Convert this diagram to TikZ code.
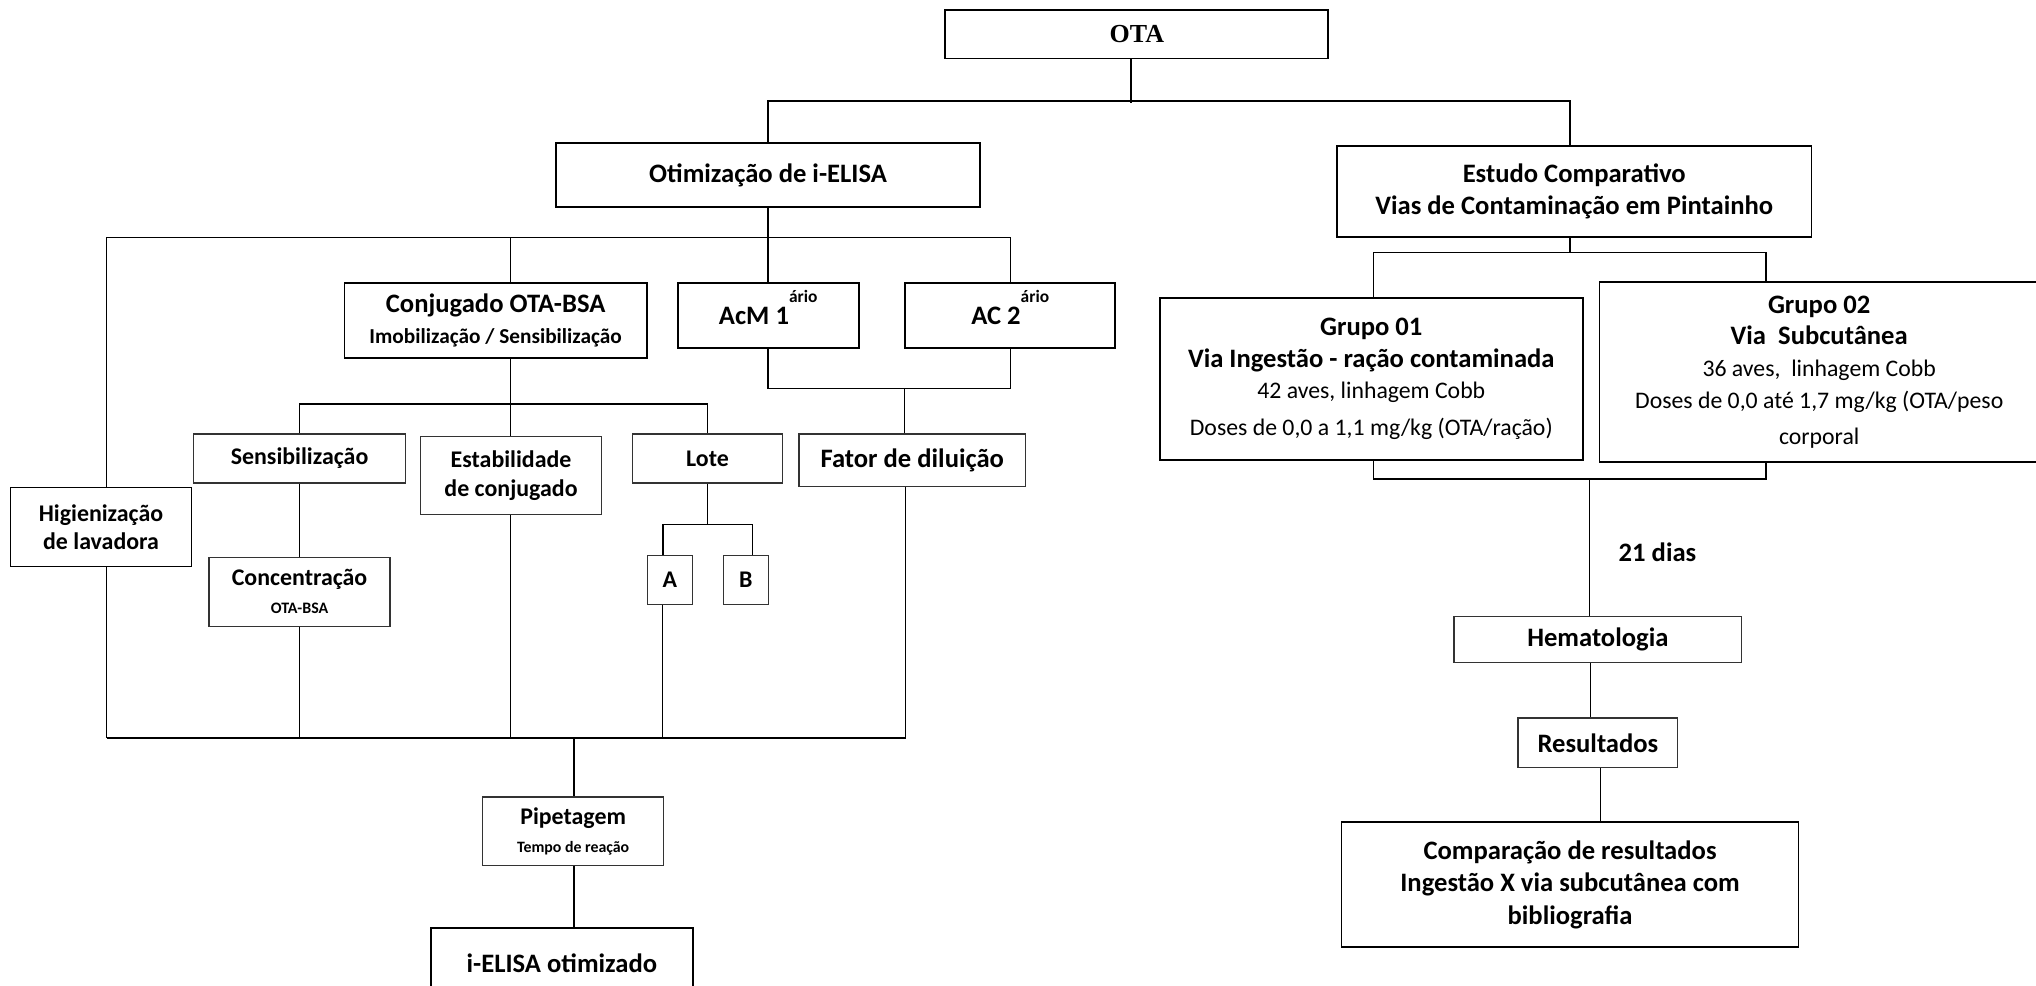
\documentclass[tikz,border=0pt]{standalone}
\usepackage{fontspec}
\setmainfont{Carlito}
\newfontfamily\otafont{Liberation Serif}
\newcommand\rgfont{\mdseries\fontsize{18.3}{24}\selectfont}
\begin{document}
\begin{tikzpicture}[x=1pt,y=-1pt,
  bx/.style={draw, inner sep=0pt, align=center},
  thickbox/.style={bx, line width=1.4pt},
  thinbox/.style={bx, line width=0.9pt, draw=black!80},
  fbig/.style={font=\fontsize{20.5}{24.4}\selectfont\bfseries},
  fmed/.style={font=\fontsize{18.4}{21.5}\selectfont\bfseries},
  conn/.style={line width=1.1pt},
  busline/.style={line width=1.6pt}
]
\useasboundingbox (0,0) rectangle (1568,759);

% ---------- boxes ----------
\node[thickbox, minimum width=295pt, minimum height=37pt, font=\otafont\fontsize{20}{22}\selectfont\bfseries] (ota) at (875.5,26.5) {OTA};
\node[thickbox, minimum width=326.3pt, minimum height=49.7pt, fbig] (otim) at (591.5,134.85) {Otimização de i-ELISA};
\node[thickbox, minimum width=365.5pt, minimum height=70.4pt, fbig] (estudo) at (1212.35,147.6) {Estudo Comparativo\\Vias de Contaminação em Pintainho};

\node[thickbox, minimum width=232.8pt, minimum height=58.3pt, fbig] (conj) at (381.7,246.85)
  {Conjugado OTA-BSA\\\fontsize{16.4}{21.8}\selectfont Imobilização / Sensibilização};
\node[thickbox, minimum width=139.4pt, minimum height=50.6pt, fbig] (acm) at (591.6,243)
  {AcM 1\smash{\raisebox{16.7pt}{\fontsize{13.4}{14}\selectfont ário}}};
\node[thickbox, minimum width=162pt, minimum height=50.6pt, fbig] (ac2) at (778,243)
  {AC 2\smash{\raisebox{16.7pt}{\fontsize{13.4}{14}\selectfont ário}}};

\node[thinbox, minimum width=163.2pt, minimum height=37.8pt, fmed] (sens) at (230.7,353.1) {Sensibilização};
\node[thinbox, minimum width=139.9pt, minimum height=60.2pt, font=\fontsize{18.4}{22.6}\selectfont\bfseries] (estab) at (393.55,366.4) {Estabilidade\\de conjugado};
\node[thinbox, minimum width=116.1pt, minimum height=37.8pt, fmed] (lote) at (544.85,353.1) {Lote};
\node[thinbox, minimum width=174.5pt, minimum height=40.6pt, fbig] (fator) at (702.55,354.5) {Fator de diluição};
\node[thickbox, line width=1.1pt, minimum width=139.4pt, minimum height=60.8pt, fmed] (higien) at (77.8,405.8) {Higienização\\de lavadora};
\node[thinbox, minimum width=139.4pt, minimum height=52.8pt, fmed] (conc) at (230.7,455.8)
  {Concentração\\\fontsize{12.3}{19}\selectfont OTA-BSA};
\node[thinbox, minimum width=34.6pt, minimum height=37.9pt, fmed] (boxa) at (515.9,446.45) {A};
\node[thinbox, minimum width=34.6pt, minimum height=37.9pt, fmed] (boxb) at (574.3,446.45) {B};
\node[thinbox, minimum width=139.4pt, minimum height=52.6pt, fmed] (pip) at (441.4,640.1)
  {Pipetagem\\\fontsize{12.2}{18.4}\selectfont Tempo de reação};
\node[thickbox, minimum width=202.1pt, minimum height=55.6pt, fbig] (ielisa) at (432.75,742.2) {i-ELISA otimizado};

\node[thickbox, minimum width=325.9pt, minimum height=125.1pt, fbig] (g1) at (1056.05,291.75)
  {Grupo 01\\Via Ingestão - ração contaminada\\
   \rgfont 42 aves, linhagem Cobb\\[4pt]
   \rgfont Doses de 0,0 a 1,1 mg/kg (OTA/ração)};
\node[thickbox, line width=1.1pt, minimum width=338pt, minimum height=138.7pt, fbig] (g2) at (1401,286.5)
  {Grupo 02\\Via\ \ Subcutânea\\
   \rgfont 36 aves,\ \ linhagem Cobb\\
   \rgfont Doses de 0,0 até 1,7 mg/kg (OTA/peso\\[3.5pt]
   \rgfont corporal};
\node[fbig] (dias) at (1276.5,425.4) {21 dias};
\node[thinbox, minimum width=221.7pt, minimum height=35.5pt, fbig] (hemat) at (1230.55,492.55) {Hematologia};
\node[thinbox, minimum width=123.2pt, minimum height=38.3pt, fbig] (result) at (1230.6,572.05) {Resultados};
\node[thickbox, line width=1.1pt, minimum width=351.7pt, minimum height=96.4pt, font=\fontsize{20.5}{25}\selectfont\bfseries] (compar) at (1209.15,681.2)
  {Comparação de resultados\\Ingestão X via subcutânea com\\bibliografia};

% ---------- junction coordinates ----------
\coordinate (t1) at (871,79.6);
\coordinate (e1) at (1209,77.8);
\coordinate (h1) at (82.1,182.8);
\coordinate (h2) at (393.3,182.8);
\coordinate (h3) at (778,182.8);
\coordinate (f1) at (696.4,299);
\coordinate (c1) at (393.3,311.1);
\coordinate (l1) at (510.5,403.9);
\coordinate (l2) at (579.7,403.9);
\coordinate (bL) at (82.1,568.6);
\coordinate (bS) at (230.7,568.6);
\coordinate (bE) at (393.3,568.6);
\coordinate (bA) at (510,568.6);
\coordinate (bC) at (441.9,568.6);
\coordinate (bR) at (697.4,568.6);
\coordinate (s1) at (1209,194.6);
\coordinate (s2) at (1360.2,194.6);
\coordinate (r1) at (1057.7,368.9);
\coordinate (r2) at (1360.2,368.9);
\coordinate (r3) at (1224.1,368.9);
\coordinate (m1) at (1225,530);
\coordinate (m2) at (1232.4,610);

% ---------- connectors ----------
\draw[conn] (t1 |- ota.south) -- (t1);
\draw[conn] (otim.north) |- (e1) -- (e1 |- estudo.north);

\draw[conn] (otim.south) -- (otim.south |- h1);
\draw[conn] (h1 |- higien.north) -- (h1) -- (h3) -- (ac2.north);
\draw[conn] (h2) -- (h2 |- conj.north);
\draw[conn] (acm.north) -- (acm.north |- h1);

\draw[conn] (acm.south) |- (ac2.south |- f1) -- (ac2.south);
\draw[conn] (f1) -- (f1 |- fator.north);

\draw[conn] (c1 |- conj.south) -- (c1);
\draw[conn] (sens.north) |- (lote.north |- c1) -- (lote.north);
\draw[conn] (c1) -- (c1 |- estab.north);

\draw[conn] (sens.south) -- (conc.north);
\draw[conn] (lote.south) -- (lote.south |- l1);
\draw[conn] (l1 |- boxa.north) -- (l1) -- (l2) -- (l2 |- boxb.north);

\draw[conn] (bL |- higien.south) -- (bL);
\draw[conn] (conc.south) -- (bS);
\draw[conn] (bE |- estab.south) -- (bE);
\draw[conn] (bA |- boxa.south) -- (bA);
\draw[conn] (bR |- fator.south) -- (bR);
\draw[busline] (bL) -- (bR);
\draw[conn] (bC) -- (bC |- pip.north);
\draw[conn] (bC |- pip.south) -- (bC |- ielisa.north);

\draw[conn] (s1 |- estudo.south) -- (s1);
\draw[conn] (g1.north -| r1) |- (s2) -- (s2 |- g2.north);

\draw[conn] (r1 |- g1.south) -- (r1) -- (r2) -- (r2 |- g2.south);
\draw[conn] (r3) -- (r3 |- hemat.north);
\draw[conn] (m1 |- hemat.south) -- (m1 |- result.north);
\draw[conn] (m2 |- result.south) -- (m2 |- compar.north);
\end{tikzpicture}
\end{document}
